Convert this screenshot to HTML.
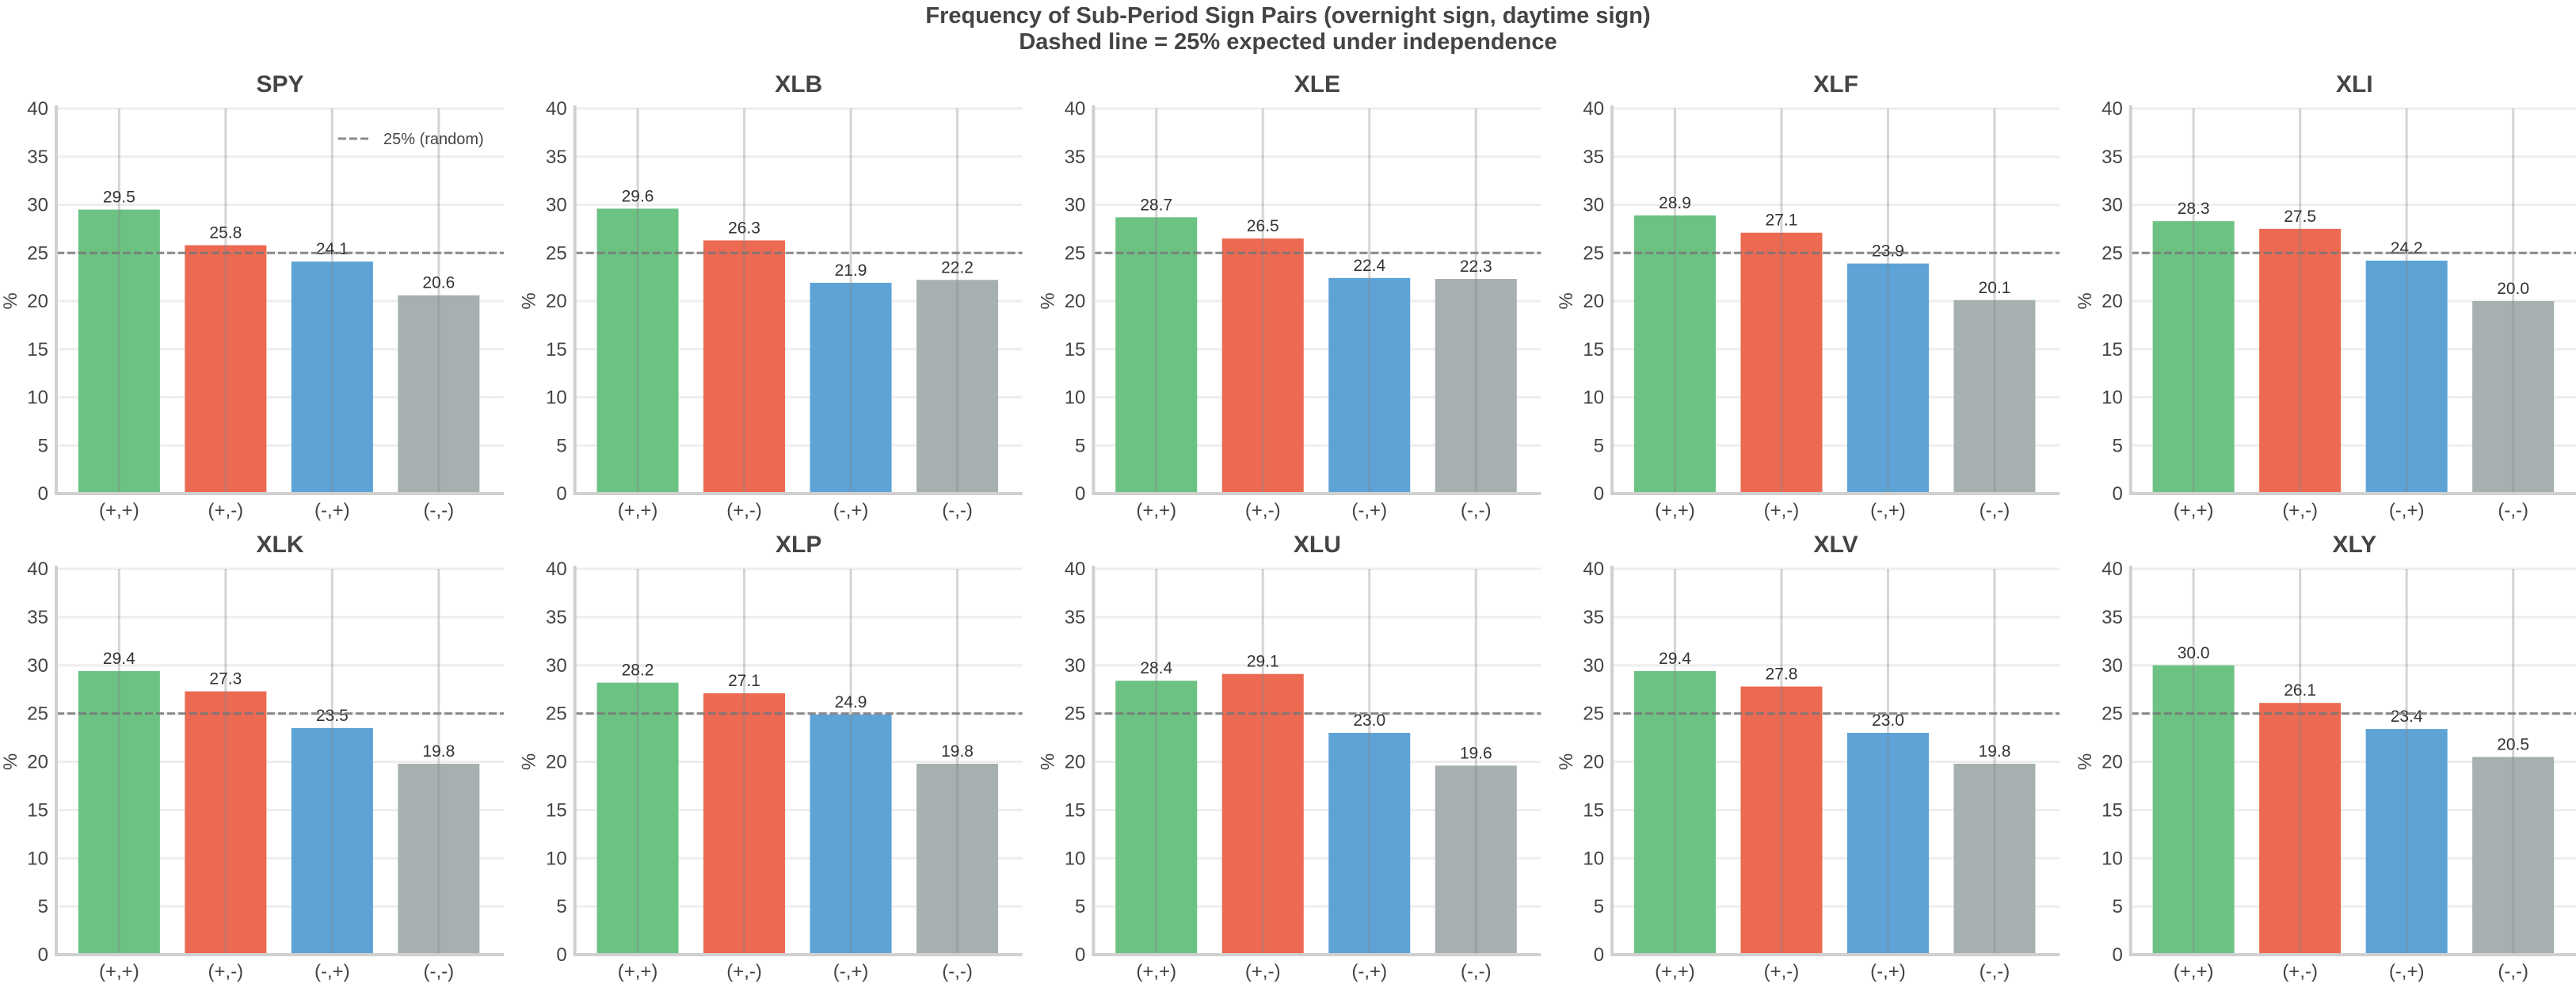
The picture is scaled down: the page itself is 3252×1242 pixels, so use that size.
<!DOCTYPE html>
<html><head><meta charset="utf-8">
<style>
html,body{margin:0;padding:0;background:#fff;}
svg{display:block;font-family:"Liberation Sans",sans-serif;}
</style></head>
<body>
<svg id="chart" width="3252" height="1242" viewBox="0 0 3252 1242" xmlns="http://www.w3.org/2000/svg">
<text x="1626" y="29" text-anchor="middle" font-size="29" font-weight="bold" fill="#444">Frequency of Sub-Period Sign Pairs (overnight sign, daytime sign)</text>
<text x="1626" y="62" text-anchor="middle" font-size="29" font-weight="bold" fill="#444">Dashed line = 25% expected under independence</text>
</svg>
<script>
const tickers = ["SPY","XLB","XLE","XLF","XLI","XLK","XLP","XLU","XLV","XLY"];
const categories = ["(+,+)","(+,-)","(-,+)","(-,-)"];
const ppValues = [29.5,29.6,28.7,28.9,28.3,29.4,28.2,28.4,29.4,30.0];
const pmValues = [25.8,26.3,26.5,27.1,27.5,27.3,27.1,29.1,27.8,26.1];
const mpValues = [24.1,21.9,22.4,23.9,24.2,23.5,24.9,23.0,23.0,23.4];
const mmValues = [20.6,22.2,22.3,20.1,20.0,19.8,19.8,19.6,19.8,20.5];
const yTicks = [0,5,10,15,20,25,30,35,40];
const expectedPct = 25;

const NS = "http://www.w3.org/2000/svg";
const svg = document.getElementById("chart");
const colors = ["#6cc282","#ec6952","#5da3d6","#a6b0b1"];
function mk(tag, attrs, parent){
  const e = document.createElementNS(NS, tag);
  for (const k in attrs) e.setAttribute(k, attrs[k]);
  (parent||svg).appendChild(e);
  return e;
}
const pitchX = 654.7, plotW = 565, catW = 134.5;
const rowTop = [137, 718], rowZero = [623, 1205];

tickers.forEach((tk, p) => {
  const col = p % 5, row = Math.floor(p / 5);
  const left = 71 + col * pitchX, right = left + plotW;
  const top = rowTop[row], zero = rowZero[row];
  const yMax = 40;
  const ys = v => zero - (v / yMax) * (zero - top);
  const xs = i => left + (i + 0.59) * catW;
  const vals = [ppValues[p], pmValues[p], mpValues[p], mmValues[p]];

  const g = mk("g", {});
  
  

  const t = mk("text", {x: (left + right) / 2, y: top - 21, "text-anchor": "middle", "font-size": 30, "font-weight": "bold", fill: "#444"}, g);
  t.textContent = tk;
  
  

  yTicks.forEach(v => {
    const y = ys(v);
    if (v > 0) {
      const gl = mk("line", {x1: left, x2: right, y1: y, y2: y, stroke: "#eeeeee", "stroke-width": 3}, g);
      
      
    }
    const tl = mk("text", {x: left - 10, y: y + 8, "text-anchor": "end", "font-size": 24, fill: "#444"}, g);
    tl.textContent = v;
    
    
  });

  vals.forEach((v, i) => {
    const bw = catW * 0.766;
    const b = mk("rect", {x: xs(i) - bw / 2, y: ys(v), width: bw, height: zero - ys(v), fill: colors[i]}, g);
    
    
  });
  categories.forEach((c, i) => {
    const vl = mk("line", {x1: xs(i), x2: xs(i), y1: top, y2: zero, stroke: "#888", "stroke-opacity": 0.35, "stroke-width": 3}, g);
    
    
    const xl = mk("text", {x: xs(i), y: zero + 29, "text-anchor": "middle", "font-size": 24, fill: "#444"}, g);
    xl.textContent = c;
    
    
  });
  vals.forEach((v, i) => {
    const lb = mk("text", {x: xs(i), y: ys(v) - 9, "text-anchor": "middle", "font-size": 21, fill: "#333"}, g);
    lb.textContent = v.toFixed(1);
    
    
  });
  const dl = mk("line", {x1: left, x2: right, y1: ys(expectedPct), y2: ys(expectedPct), stroke: "#777", "stroke-opacity": 0.85, "stroke-width": 3, "stroke-dasharray": "10 4"}, g);
  
  

  const ax = mk("path", {d: `M${left} ${top - 4} L${left} ${zero} L${right} ${zero}`, fill: "none", stroke: "#d0d0d0", "stroke-width": 4}, g);
  
  

  const yl = mk("text", {x: 0, y: 0, "text-anchor": "middle", "font-size": 24, fill: "#444", transform: `translate(${left - 50},${(top + zero) / 2}) rotate(-90)`}, g);
  yl.textContent = "%";
  
  

  if (p === 0) {
    const lg = mk("g", {}, g);
    
    
    mk("line", {x1: 427, x2: 468, y1: 175, y2: 175, stroke: "#777", "stroke-opacity": 0.85, "stroke-width": 3, "stroke-dasharray": "10 4"}, lg);
    const lt = mk("text", {x: 484, y: 182, "font-size": 20, fill: "#444"}, lg);
    lt.textContent = "25% (random)";
    
    
  }
});
</script>
</body></html>
